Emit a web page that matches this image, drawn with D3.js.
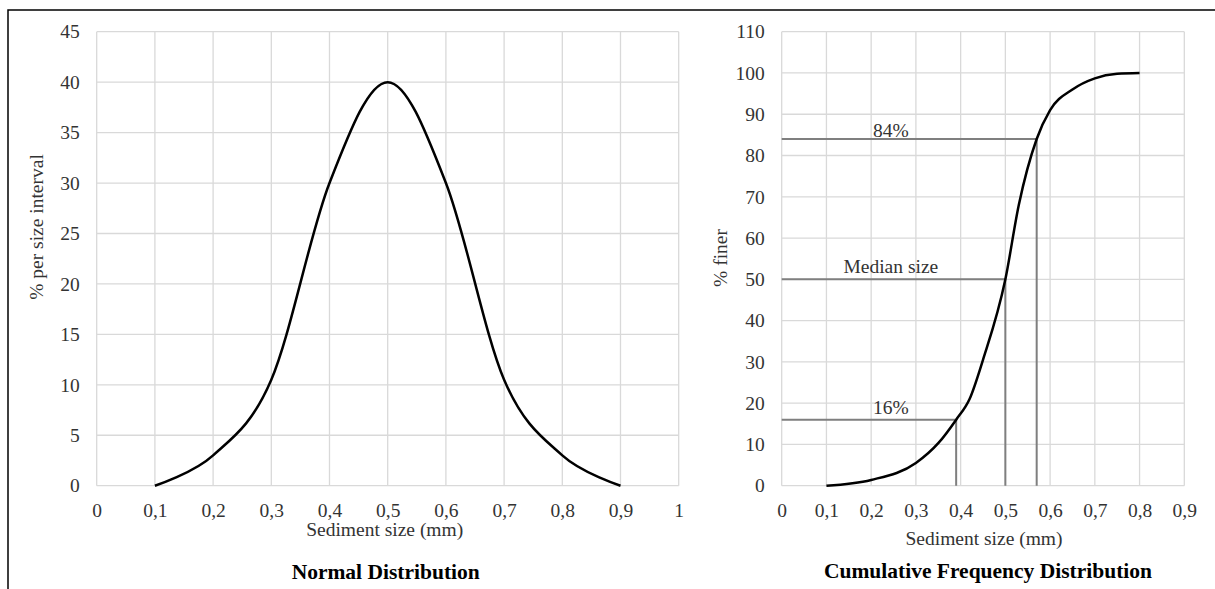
<!DOCTYPE html>
<html>
<head>
<meta charset="utf-8">
<script src="https://cdn.jsdelivr.net/npm/d3@7"></script>
<style>
  html, body { margin: 0; padding: 0; background: #fff; }
  svg { display: block; font-family: "Liberation Serif", "Times New Roman", serif; }
  .tick text { fill: #333; font-size: 19.5px; font-family: "Liberation Serif", "Times New Roman", serif; }
  .grid line { stroke: #d9d9d9; stroke-width: 1.3; }
</style>
</head>
<body>
<svg id="chart" width="1215" height="589"></svg>
<script>
// Normal distribution (left panel)
var normSize = [0.1, 0.2, 0.3, 0.4, 0.5, 0.6, 0.7, 0.8, 0.9];
var normPct = [0, 3, 10.5, 30, 40, 30, 10.5, 3, 0];
var normXTicks = [0, 0.1, 0.2, 0.3, 0.4, 0.5, 0.6, 0.7, 0.8, 0.9, 1];
var normYTicks = [0, 5, 10, 15, 20, 25, 30, 35, 40, 45];

// Cumulative frequency distribution (right panel)
var cumSize = [0.1, 0.2, 0.3, 0.35, 0.39, 0.42, 0.45, 0.5, 0.53, 0.57, 0.6, 0.65, 0.7, 0.75, 0.8];
var cumFiner = [0, 1.4, 5.5, 10.3, 16, 21, 30.5, 50, 68, 84, 91, 96, 98.7, 99.8, 100];
var cumXTicks = [0, 0.1, 0.2, 0.3, 0.4, 0.5, 0.6, 0.7, 0.8, 0.9];
var cumYTicks = [0, 10, 20, 30, 40, 50, 60, 70, 80, 90, 100, 110];

// reference lines (16%, median, 84%)
var refFiner = [16, 50, 84];
var refSize = [0.39, 0.5, 0.57];
var refLabels = ["16%", "Median size", "84%"];

var svg = d3.select("#chart");
var fmt = d3.formatLocale({decimal: ",", thousands: ".", grouping: [3], currency: ["", ""]}).format("~g");

// outer frame (top + left only)
svg.append("path")
    .attr("d", "M8,589V10H1215")
    .attr("fill", "none")
    .attr("stroke", "#000")
    .attr("stroke-width", 1.5);

function cleanAxis(a) {
  a.attr("font-family", null).attr("font-size", null);
  a.select(".domain").remove();
}

function panel(o) {
  var x = d3.scaleLinear().domain([0, o.xTicks[o.xTicks.length - 1]]).range([o.left, o.right]);
  var y = d3.scaleLinear().domain([0, o.yTicks[o.yTicks.length - 1]]).range([o.bottom, o.top]);
  var g = svg.append("g");

  // grid
  var grid = g.append("g").attr("class", "grid");
  grid.selectAll(".v").data(o.xTicks).enter().append("line")
      .attr("x1", function(d) { return x(d); }).attr("x2", function(d) { return x(d); })
      .attr("y1", o.top).attr("y2", o.bottom);
  grid.selectAll(".h").data(o.yTicks).enter().append("line")
      .attr("x1", o.left).attr("x2", o.right)
      .attr("y1", function(d) { return y(d); }).attr("y2", function(d) { return y(d); });

  g.append("g")
      .attr("transform", "translate(0," + o.bottom + ")")
      .call(d3.axisBottom(x).tickValues(o.xTicks).tickFormat(fmt).tickSize(0).tickPadding(17.5))
      .call(cleanAxis);

  g.append("g")
      .attr("transform", "translate(" + o.left + ",0)")
      .call(d3.axisLeft(y).tickValues(o.yTicks).tickFormat(fmt).tickSize(0).tickPadding(17))
      .call(cleanAxis);

  // axis titles
  g.append("text")
      .attr("x", (o.left + o.right) / 2 + o.xTitleDX).attr("y", o.xTitleY)
      .attr("text-anchor", "middle").attr("font-size", 19.5).attr("fill", "#333")
      .text("Sediment size (mm)");
  g.append("text")
      .attr("transform", "translate(" + o.yTitleX + "," + o.yTitleCY + ")rotate(-90)")
      .attr("text-anchor", "middle").attr("font-size", 19.5).attr("fill", "#333")
      .text(o.yTitle);
  g.append("text")
      .attr("x", (o.left + o.right) / 2 + o.titleDX).attr("y", o.titleY)
      .attr("text-anchor", "middle").attr("font-size", 21.5).attr("font-weight", "bold").attr("fill", "#000")
      .text(o.title);

  return {g: g, x: x, y: y};
}

// left panel
var p1 = panel({
  left: 96.7, right: 678.7, top: 31.7, bottom: 485.7,
  xTicks: normXTicks, yTicks: normYTicks,
  xTitleY: 535.5, xTitleDX: -3, yTitleX: 43, yTitleCY: 227, yTitle: "% per size interval",
  titleY: 579, titleDX: -2, title: "Normal Distribution"
});

p1.g.append("path")
    .datum(normSize.map(function(s, i) { return [s, normPct[i]]; }))
    .attr("fill", "none").attr("stroke", "#000").attr("stroke-width", 2.5)
    .attr("d", d3.line()
        .x(function(d) { return p1.x(d[0]); })
        .y(function(d) { return p1.y(d[1]); })
        .curve(d3.curveCardinal.tension(0)));

// right panel
var p2 = panel({
  left: 781.7, right: 1184.3, top: 31.7, bottom: 485.7,
  xTicks: cumXTicks, yTicks: cumYTicks,
  xTitleY: 545, xTitleDX: 1, yTitleX: 727, yTitleCY: 258, yTitle: "% finer",
  titleY: 578, titleDX: 5, title: "Cumulative Frequency Distribution"
});

// reference lines
var labelDY = [-5.7, -6.6, -2];
refFiner.forEach(function(f, i) {
  p2.g.append("path")
      .attr("d", "M" + p2.x(0) + "," + p2.y(f) + "H" + p2.x(refSize[i]) + "V" + p2.y(0))
      .attr("fill", "none").attr("stroke", "#7f7f7f").attr("stroke-width", 2);
  p2.g.append("text")
      .attr("x", p2.x(0.244)).attr("y", p2.y(f) + labelDY[i])
      .attr("text-anchor", "middle").attr("font-size", 19.5).attr("fill", "#333")
      .text(refLabels[i]);
});

p2.g.append("path")
    .datum(cumSize.map(function(s, i) { return [s, cumFiner[i]]; }))
    .attr("fill", "none").attr("stroke", "#000").attr("stroke-width", 2.5)
    .attr("d", d3.line()
        .x(function(d) { return p2.x(d[0]); })
        .y(function(d) { return p2.y(d[1]); })
        .curve(d3.curveMonotoneX));
</script>
</body>
</html>
